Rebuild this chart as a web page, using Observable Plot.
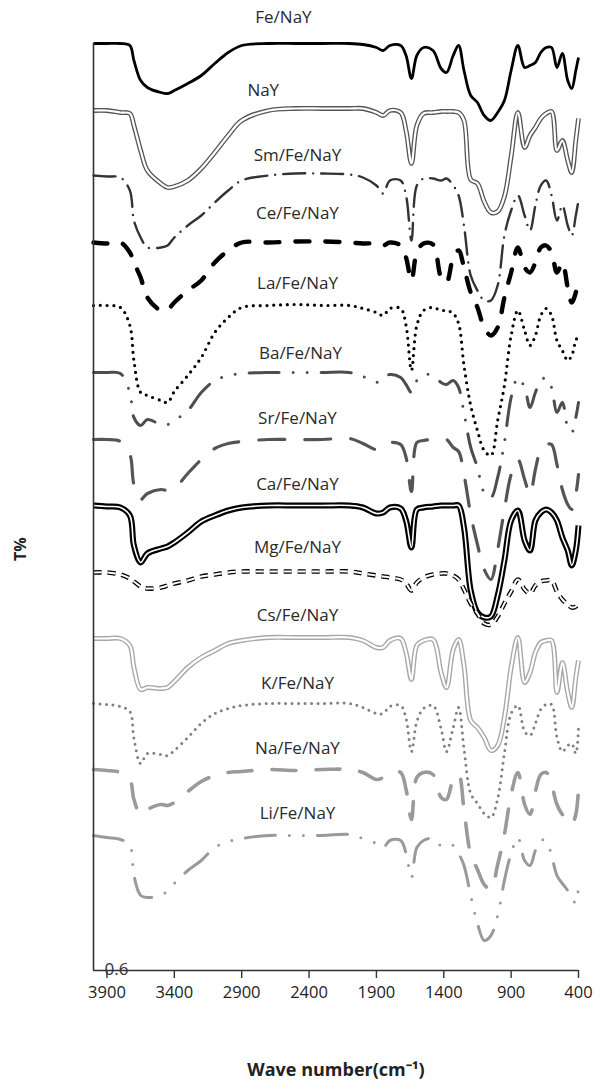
<!DOCTYPE html>
<html><head><meta charset="utf-8">
<script src="https://cdn.jsdelivr.net/npm/d3@7"></script>
<script src="https://cdn.jsdelivr.net/npm/@observablehq/plot@0.6"></script>
<style>body{margin:0;background:#fff}</style>
</head><body><div id="chart"></div>
<script>
// Wavenumber grid (cm-1) shared by all spectra
const wavenumbers = [4000,3900,3800,3730,3700,3650,3600,3500,3450,3400,
  3300,3200,3100,3000,2900,2700,2500,2300,2100,2000,
  1900,1850,1800,1720,1680,1640,1600,1550,1480,1420,
  1380,1330,1290,1250,1200,1150,1100,1050,1000,950,
  900,850,800,760,720,680,640,600,560,520,
  480,450,420,400];

const seriesNames = ["Fe/NaY","NaY","Sm/Fe/NaY","Ce/Fe/NaY","La/Fe/NaY","Ba/Fe/NaY","Sr/Fe/NaY","Ca/Fe/NaY","Mg/Fe/NaY","Cs/Fe/NaY","K/Fe/NaY","Na/Fe/NaY","Li/Fe/NaY"];
// vertical stacking offsets of each spectrum
const offsets = [4.235,3.895,3.575,3.24,2.925,2.59,2.255,1.925,1.595,1.265,0.935,0.605,0.275];

// transmittance of each spectrum (relative)
const feNaY = [1.00,1.00,1.00,0.99,0.915,0.815,0.78,0.755,0.75,0.765,
 0.80,0.84,0.90,0.955,0.99,1.00,1.00,1.00,1.00,0.995,
 0.98,0.965,0.99,0.99,0.94,0.825,0.94,0.98,0.965,0.875,
 0.855,0.94,0.99,0.865,0.74,0.705,0.64,0.615,0.655,0.715,
 0.865,0.99,0.88,0.89,0.905,0.955,0.98,0.98,0.88,0.95,
 0.815,0.775,0.865,0.93];
const naY = [1.005,1.005,0.995,0.99,0.93,0.805,0.705,0.64,0.62,0.625,
 0.655,0.715,0.795,0.88,0.955,1.005,1.015,1.015,1.015,1.015,
 0.995,0.98,1.005,0.995,0.905,0.74,0.93,0.99,0.995,1.00,
 1.00,1.00,0.995,0.955,0.66,0.64,0.55,0.495,0.50,0.575,
 0.775,0.995,0.82,0.88,0.92,0.965,0.99,1.00,0.805,0.855,
 0.755,0.695,0.855,0.965];
const smFeNaY = [1.00,0.995,0.99,0.925,0.775,0.69,0.64,0.64,0.65,0.69,
 0.75,0.80,0.865,0.925,0.975,1.00,1.01,1.01,1.005,0.99,
 0.95,0.91,0.975,0.975,0.90,0.675,0.95,0.985,0.985,0.975,
 0.985,0.95,0.90,0.75,0.50,0.425,0.375,0.375,0.45,0.70,
 0.825,0.90,0.80,0.725,0.85,0.95,0.975,0.90,0.775,0.85,
 0.75,0.70,0.80,0.875];
const ceFeNaY = [1.00,0.995,1.00,0.95,0.90,0.825,0.725,0.66,0.665,0.70,
 0.76,0.81,0.90,0.96,1.00,1.00,1.005,1.005,1.00,0.995,
 0.995,0.985,1.00,0.985,0.925,0.81,0.95,0.995,0.99,0.825,
 0.80,0.925,0.96,0.875,0.75,0.675,0.575,0.535,0.575,0.725,
 0.85,0.975,0.875,0.85,0.90,0.975,0.985,0.95,0.85,0.90,
 0.775,0.70,0.75,0.825];
const laFeNaY = [1.00,1.00,0.99,0.90,0.725,0.565,0.55,0.525,0.515,0.57,
 0.65,0.74,0.865,0.94,0.99,1.00,1.005,1.00,1.00,0.985,
 0.965,0.95,0.985,0.985,0.90,0.675,0.90,0.975,0.99,0.975,
 0.975,0.96,0.91,0.70,0.50,0.375,0.275,0.25,0.425,0.60,
 0.85,0.975,0.875,0.80,0.85,0.95,0.985,0.95,0.825,0.775,
 0.725,0.75,0.825,0.85];
const baFeNaY = [1.00,1.00,0.995,0.90,0.775,0.735,0.765,0.74,0.74,0.76,
 0.81,0.90,0.96,0.985,0.995,1.00,1.00,1.00,1.00,0.98,
 0.95,0.975,0.99,0.975,0.94,0.90,0.96,0.99,0.985,0.95,
 0.94,0.96,0.925,0.80,0.625,0.525,0.40,0.375,0.475,0.65,
 0.875,0.975,0.925,0.825,0.90,0.96,0.975,0.925,0.80,0.85,
 0.725,0.70,0.775,0.85];
const srFeNaY = [1.00,1.00,0.99,0.925,0.775,0.70,0.73,0.75,0.745,0.755,
 0.83,0.90,0.955,0.98,0.99,1.00,1.00,1.00,1.005,0.98,
 0.95,0.965,0.985,0.975,0.91,0.74,0.985,0.995,1.00,1.00,
 1.00,0.96,0.94,0.825,0.625,0.475,0.35,0.30,0.45,0.65,
 0.825,0.90,0.80,0.725,0.85,0.95,0.975,0.975,0.875,0.75,
 0.675,0.65,0.725,0.825];
const caFeNaY = [1.00,0.995,0.99,0.95,0.80,0.715,0.76,0.785,0.795,0.815,
 0.865,0.92,0.95,0.975,0.99,1.00,1.00,1.00,1.00,0.99,
 0.96,0.965,0.99,0.985,0.925,0.79,0.98,0.99,0.995,1.00,
 1.00,1.00,1.00,0.89,0.575,0.465,0.44,0.445,0.55,0.725,
 0.925,0.975,0.825,0.775,0.925,0.965,0.98,0.965,0.925,0.84,
 0.775,0.70,0.775,0.90];
const mgFeNaY = [0.995,0.995,0.985,0.965,0.95,0.925,0.915,0.92,0.93,0.94,
 0.955,0.975,0.985,0.995,1.00,1.00,1.00,1.00,1.00,0.99,
 0.98,0.975,0.97,0.96,0.94,0.905,0.945,0.97,0.985,0.99,
 0.99,0.98,0.96,0.91,0.84,0.79,0.74,0.735,0.775,0.84,
 0.90,0.96,0.91,0.89,0.93,0.95,0.955,0.955,0.90,0.86,
 0.835,0.82,0.825,0.85];
const csFeNaY = [0.995,0.995,0.995,0.96,0.85,0.74,0.75,0.745,0.75,0.78,
 0.85,0.90,0.935,0.97,0.985,1.00,1.00,1.00,1.00,0.985,
 0.95,0.95,0.985,0.995,0.925,0.79,0.96,0.985,0.99,0.825,
 0.75,0.94,0.99,0.86,0.585,0.55,0.50,0.435,0.46,0.60,
 0.85,1.00,0.775,0.825,0.925,0.975,0.985,0.985,0.725,0.875,
 0.725,0.65,0.80,0.885];
const kFeNaY = [1.00,0.995,0.985,0.96,0.825,0.70,0.75,0.745,0.74,0.765,
 0.83,0.90,0.95,0.975,0.99,1.00,1.00,1.00,1.00,0.98,
 0.95,0.95,0.985,0.99,0.925,0.76,0.91,0.975,0.99,0.875,
 0.76,0.88,0.98,0.775,0.55,0.50,0.45,0.43,0.525,0.75,
 0.95,0.99,0.86,0.84,0.90,0.97,0.995,0.995,0.83,0.76,
 0.79,0.80,0.75,0.88];
const naFeNaY = [1.00,0.995,0.985,0.95,0.85,0.775,0.80,0.825,0.82,0.835,
 0.89,0.94,0.97,0.985,0.99,1.00,0.995,1.00,1.00,0.985,
 0.95,0.96,0.985,0.985,0.90,0.75,0.96,0.985,0.975,0.86,
 0.85,0.95,0.975,0.80,0.575,0.50,0.425,0.40,0.525,0.675,
 0.875,0.985,0.825,0.775,0.89,0.975,0.985,0.925,0.825,0.775,
 0.75,0.725,0.775,0.90];
const liFeNaY = [1.00,0.99,0.98,0.95,0.80,0.70,0.69,0.70,0.725,0.76,
 0.825,0.875,0.94,0.97,0.985,1.00,1.00,1.00,1.005,0.985,
 0.96,0.94,0.975,0.975,0.91,0.79,0.94,0.975,0.985,0.95,
 0.96,0.95,0.91,0.85,0.70,0.56,0.475,0.50,0.60,0.775,
 0.91,0.99,0.875,0.85,0.925,0.975,0.975,0.90,0.80,0.76,
 0.725,0.69,0.66,0.75];

const spectra = [feNaY,naY,smFeNaY,ceFeNaY,laFeNaY,baFeNaY,srFeNaY,caFeNaY,mgFeNaY,csFeNaY,kFeNaY,naFeNaY,liFeNaY];

// where each series name sits (wavenumber, and level in plot units)
const labelWn = [2590,2740,2486,2486,2486,2464,2486,2486,2486,2486,2486,2486,2486];
const labelLevel = [5.365,5.0,4.675,4.385,4.035,3.685,3.36,3.03,2.715,2.375,2.035,1.71,1.385];

const xTicks = [3900,3400,2900,2400,1900,1400,900,400];
const yTicks = [0.6];
const xDomain = [4000,400];
const yDomain = [0.6,5.235];
const xTitle = "Wave number(cm\u207B\u00B9)";
const yTitle = "T%";

// line styles: one or more stroked layers per series
const styles = [
  [{stroke:"#000", w:2.8}],
  [{stroke:"#555", w:4.8}, {stroke:"#fff", w:2.2}],
  [{stroke:"#333", w:2.4, dash:"22,8,0,8", cap:"round"}],
  [{stroke:"#000", w:4.4, dash:"14,16", cap:"round"}],
  [{stroke:"#000", w:3.2, dash:"0,6.8", cap:"round"}],
  [{stroke:"#4d4d4d", w:3, dash:"30,14,0,14,0,14", cap:"round"}],
  [{stroke:"#555", w:3.2, dash:"26,20", cap:"round"}],
  [{stroke:"#000", w:6}, {stroke:"#fff", w:1.6}],
  [{stroke:"#000", w:4.6, dash:"8,6"}, {stroke:"#fff", w:2, dash:"8,6"}],
  [{stroke:"#a8a8a8", w:5}, {stroke:"#fff", w:2.2}],
  [{stroke:"#808080", w:3, dash:"0,6.5", cap:"round"}],
  [{stroke:"#9a9a9a", w:3.6, dash:"24,20", cap:"round"}],
  [{stroke:"#9a9a9a", w:3, dash:"30,14,0,14,0,14", cap:"round"}]
];

const rows = spectra.flatMap((vals, s) => vals.map((t, i) => ({series: seriesNames[s], wn: wavenumbers[i], y: t + offsets[s]})));

const marks = [];
seriesNames.forEach((name, s) => {
  const d = rows.filter(r => r.series === name);
  for (const st of styles[s]) {
    marks.push(Plot.line(d, {x: "wn", y: "y", stroke: st.stroke, strokeWidth: st.w,
      strokeDasharray: st.dash, strokeLinecap: st.cap || "butt", strokeLinejoin: "round",
      curve: "catmull-rom"}));
  }
});

const labelRows = seriesNames.map((n, s) => ({name: n, wn: labelWn[s], y: labelLevel[s]}));
marks.push(Plot.text(labelRows, {x: "wn", y: "y", text: "name", fontSize: 17, fill: "#2a2a2a"}));

marks.push(Plot.ruleX([xDomain[0]], {stroke: "#333", strokeWidth: 1.6}));
marks.push(Plot.ruleY([yDomain[0]], {stroke: "#333", strokeWidth: 1.6}));
marks.push(Plot.axisX(xTicks, {tickSize: 8, tickPadding: 8, fontSize: 16.5, stroke: "#333", strokeWidth: 1.4, fill: "#222", label: null, tickFormat: d => String(d)}));
marks.push(Plot.axisY(yTicks, {tickSize: 0, tickPadding: 0, textAnchor: "start", dx: 11, dy: -1, fontSize: 17, fill: "#333", label: null}));
marks.push(Plot.text([xTitle], {frameAnchor: "bottom", dy: 105, fontSize: 18, fontWeight: "bold", fill: "#222"}));
marks.push(Plot.text([yTitle], {frameAnchor: "left", rotate: -90, dx: -73, dy: 54, fontSize: 16, fontWeight: "bold", fill: "#222"}));

const chart = Plot.plot({
  width: 600, height: 1090,
  marginTop: 43, marginBottom: 120, marginLeft: 93, marginRight: 22,
  x: {domain: xDomain},
  y: {domain: yDomain},
  style: {fontFamily: "'Open Sans', sans-serif", background: "#fff"},
  marks
});
document.getElementById("chart").appendChild(chart);
</script>
</body></html>
